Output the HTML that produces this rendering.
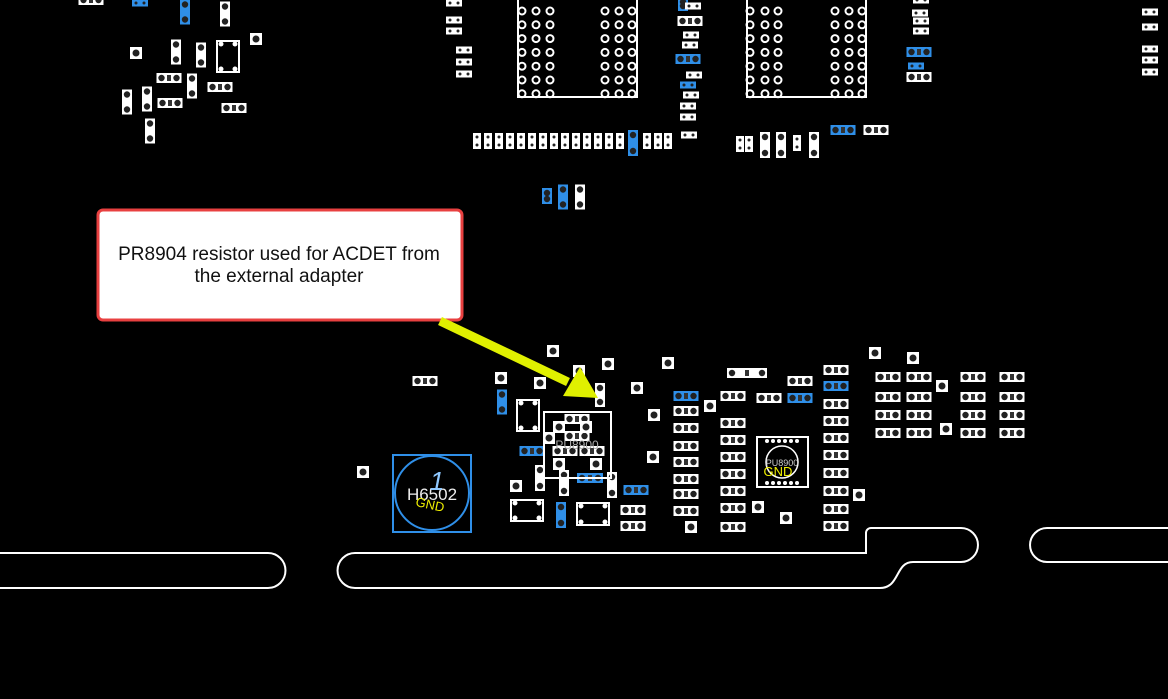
<!DOCTYPE html>
<html><head><meta charset="utf-8"><style>
html,body{margin:0;padding:0;background:#000;width:1168px;height:699px;overflow:hidden}
svg{display:block}
</style></head><body>
<svg id="s" width="1168" height="699" viewBox="0 0 1168 699" xmlns="http://www.w3.org/2000/svg">
<rect width="1168" height="699" fill="#000"/>
<g id="g"></g>
<g fill="none" stroke="#fff" stroke-width="2">
<path d="M0 553 H268 A17 17 0 0 1 268 588 H0"/>
<path d="M355 553 H866 V533 A5 5 0 0 1 871 528 H961 A17 17 0 0 1 961 562 H913 C895 562 900 588 880 588 H355 A17 17 0 0 1 355 553 Z"/>
<path d="M1168 528 H1047 A17 17 0 0 0 1047 562 H1168"/>
</g>
<rect x="393" y="455" width="78" height="77" fill="none" stroke="#2f8fe8" stroke-width="2"/>
<circle cx="432" cy="493" r="37" fill="none" stroke="#2f8fe8" stroke-width="2"/>
<text x="432" y="500" font-family="Liberation Sans,sans-serif" font-size="17" fill="#eee" text-anchor="middle">H6502</text>
<text x="430" y="509" font-family="Liberation Sans,sans-serif" font-size="13" fill="#f0f000" text-anchor="middle" transform="rotate(12 430 505)">GND</text>
<text x="437" y="490" font-family="Liberation Sans,sans-serif" font-size="26" fill="#8fc8ff" text-anchor="middle" font-style="italic">1</text>
<rect x="544" y="412" width="67" height="66" fill="none" stroke="#fff" stroke-width="2"/>
<text x="577" y="449" font-family="Liberation Sans,sans-serif" font-size="12" fill="#aaa" text-anchor="middle">PU8900</text>
<rect x="98" y="210" width="364" height="110" rx="5" fill="#fff" stroke="#e84040" stroke-width="3"/>
<text x="279" y="260" font-family="Liberation Sans,sans-serif" font-size="19" fill="#111" text-anchor="middle">PR8904 resistor used for ACDET from</text>
<text x="279" y="282" font-family="Liberation Sans,sans-serif" font-size="19" fill="#111" text-anchor="middle">the external adapter</text>
<line x1="440" y1="321" x2="568" y2="382" stroke="#e0f000" stroke-width="9"/>
<polygon points="598,398 563,396 580,367" fill="#e0f000"/>
</svg>
<script>
var g=document.getElementById('g'),NS='http://www.w3.org/2000/svg';
function el(t,a){var e=document.createElementNS(NS,t);for(var k in a)e.setAttribute(k,a[k]);g.appendChild(e);return e}
function H(x,y,c,w){w=w||25;el('rect',{x:x-w/2,y:y-5,width:w,height:10,fill:c?'#2f8fe8':'#fff'});el('circle',{cx:x-w/2+5,cy:y,r:3.2,fill:'#222'});el('circle',{cx:x+w/2-5,cy:y,r:3.2,fill:'#222'});el('rect',{x:x-2,y:y-3,width:4,height:6,fill:'#333'})}
function V(x,y,c,h){h=h||25;el('rect',{x:x-5,y:y-h/2,width:10,height:h,fill:c?'#2f8fe8':'#fff'});el('circle',{cx:x,cy:y-h/2+5,r:3.2,fill:'#222'});el('circle',{cx:x,cy:y+h/2-5,r:3.2,fill:'#222'})}
function S(x,y,c){el('rect',{x:x-6,y:y-6,width:12,height:12,fill:c?'#2f8fe8':'#fff'});el('circle',{cx:x,cy:y,r:3.5,fill:'#222'})}
function sh(x,y,c){el('rect',{x:x-8,y:y-3.5,width:16,height:7,fill:c?'#2f8fe8':'#fff'});el('circle',{cx:x-4,cy:y,r:1.5,fill:'#222'});el('circle',{cx:x+4,cy:y,r:1.5,fill:'#222'})}
function sv(x,y,c){el('rect',{x:x-4,y:y-8,width:8,height:16,fill:c?'#2f8fe8':'#fff'});el('circle',{cx:x,cy:y-4,r:1.5,fill:'#222'});el('circle',{cx:x,cy:y+4,r:1.5,fill:'#222'})}
function IC(x1,y1,x2,y2){el('rect',{x:x1,y:y1,width:x2-x1,height:y2-y1,fill:'none',stroke:'#fff','stroke-width':2});[x1+4,x2-4].forEach(function(x){[y1+3,y2-3].forEach(function(y){el('circle',{cx:x,cy:y,r:2.5,fill:'#fff'})})})}
H(91,0);sh(140,3,1);V(185,12,1);V(225,14);S(256,39);V(176,52);V(201,55);IC(217,41,239,72);S(136,53);H(169,78);V(192,86);H(220,87);V(127,102);V(147,99);H(170,103);H(234,108);V(150,131);
[3,20,31].forEach(function(y){sh(454,y)});[50,62,74].forEach(function(y){sh(464,y)});
function bga(x1,x2,cols){el('path',{d:'M'+x1+' 0 V97 H'+x2+' V0',fill:'none',stroke:'#fff','stroke-width':2});cols.forEach(function(cx){for(var y=11;y<=95;y+=13.8){el('circle',{cx:cx,cy:y,r:3.5,fill:'none',stroke:'#fff','stroke-width':2})}})}
bga(518,637,[522,536,550,605,619,632]);bga(747,866,[750,765,778,835,849,862]);
V(683,4,1,14);sh(693,6);H(690,21);sh(691,35);sh(690,45);H(688,59,1);sh(694,75);sh(688,85,1);sh(691,95);sh(688,106);sh(688,117);sh(689,135);
for(var x=477;x<=621;x+=11){sv(x,141)}V(633,143,1,26);sv(647,141);sv(658,141);sv(668,141);
sv(740,144);sv(749,144);V(765,145,0,26);V(781,145,0,26);sv(797,143);V(814,145,0,26);H(843,130,1);H(876,130);
sh(921,0);sh(920,13);sh(921,21);sh(921,31);H(919,52,1);sh(916,66,1);H(919,77);
[12,27,49,60,72].forEach(function(y){sh(1150,y)});
V(547,196,1,16);V(563,197,1);V(580,197);
H(425,381);[[553,351],[608,364],[668,363],[579,371],[540,383],[501,378],[637,388],[710,406],[654,415],[653,457],[516,486],[363,472],[875,353],[913,358],[942,386],[946,429],[859,495],[786,518],[691,527],[758,507]].forEach(function(p){S(p[0],p[1])});
V(502,402,1);IC(517,400,539,431);V(600,395,0,24);
H(577,419);H(577,436);S(559,427);S(586,427);S(549,438);H(532,451,1);H(565,451);H(592,451);S(559,464);S(596,464);
V(540,478,0,26);V(564,483,0,26);H(590,478,1,26);V(612,485,0,26);H(636,490,1);
IC(511,500,543,521);V(561,515,1,26);IC(577,503,609,525);H(633,510);H(633,526);
[[396,1],[411],[428],[446],[462],[479],[494],[511]].forEach(function(p){H(686,p[0],p[1])});
[396,423,440,457,474,491,508,527].forEach(function(y){H(733,y)});
[[370],[386,1],[404],[421],[438],[455],[473],[491],[509],[526]].forEach(function(p){H(836,p[0],p[1])});
H(747,373,0,40);H(800,381);H(769,398);H(800,398,1);
el('rect',{x:757,y:437,width:51,height:50,fill:'none',stroke:'#fff','stroke-width':2});
for(var i=0;i<6;i++){el('circle',{cx:767+i*6,cy:441,r:2,fill:'#fff'});el('circle',{cx:767+i*6,cy:483,r:2,fill:'#fff'})}
el('circle',{cx:782,cy:462,r:16,fill:'none',stroke:'#fff','stroke-width':1.5});
var t=el('text',{x:782,y:466,'font-family':'Liberation Sans,sans-serif','font-size':9,fill:'#ccc','text-anchor':'middle'});t.textContent='PU8900';
var t2=el('text',{x:778,y:476,'font-family':'Liberation Sans,sans-serif','font-size':13,fill:'#f0f000','text-anchor':'middle'});t2.textContent='GND';
[888,919,973,1012].forEach(function(x){[377,397,415,433].forEach(function(y){H(x,y)})});
</script>
</body></html>
